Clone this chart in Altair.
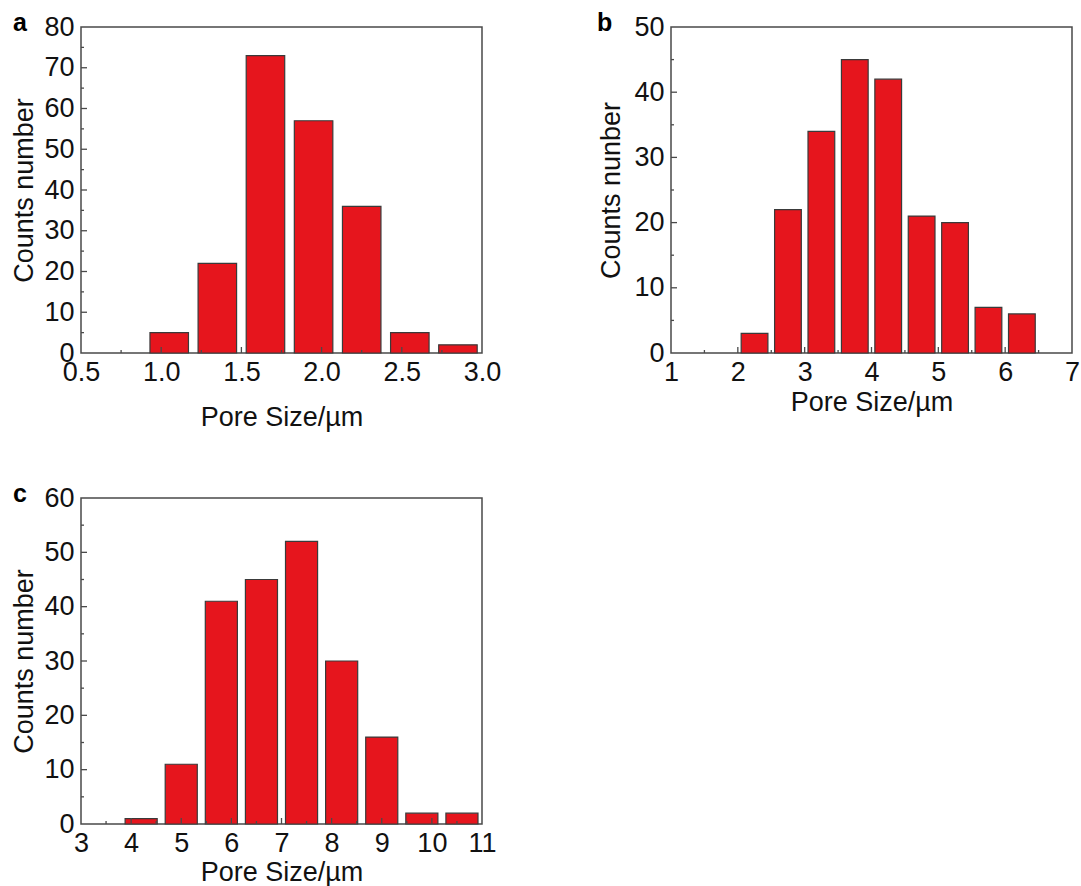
import altair as alt
import pandas as pd

FONT = "Liberation Sans, Arial"
BAR_FILL = "#e6151d"
BAR_EDGE = "#3a3a3a"
FRAME = "#4a4a4a"
W, H = 401, 326

# Panel a: pore-size histogram, bin width 0.3 µm
a_centers = [1.05, 1.35, 1.65, 1.95, 2.25, 2.55, 2.85]
a_counts = [5, 22, 73, 57, 36, 5, 2]
a_bin = 0.3
a_xdomain = [0.5, 3.0]
a_xmajor = [0.5, 1.0, 1.5, 2.0, 2.5, 3.0]
a_xminor = [0.75, 1.25, 1.75, 2.25, 2.75]
a_ydomain = [0, 80]
a_ymajor = [0, 10, 20, 30, 40, 50, 60, 70, 80]
a_yminor = [5, 15, 25, 35, 45, 55, 65, 75]

# Panel b: bin width 0.5 µm
b_centers = [2.25, 2.75, 3.25, 3.75, 4.25, 4.75, 5.25, 5.75, 6.25]
b_counts = [3, 22, 34, 45, 42, 21, 20, 7, 6]
b_bin = 0.5
b_xdomain = [1, 7]
b_xmajor = [1, 2, 3, 4, 5, 6, 7]
b_xminor = [1.5, 2.5, 3.5, 4.5, 5.5, 6.5]
b_ydomain = [0, 50]
b_ymajor = [0, 10, 20, 30, 40, 50]
b_yminor = [5, 15, 25, 35, 45]

# Panel c: bin width 0.8 µm
c_centers = [4.2, 5.0, 5.8, 6.6, 7.4, 8.2, 9.0, 9.8, 10.6]
c_counts = [1, 11, 41, 45, 52, 30, 16, 2, 2]
c_bin = 0.8
c_xdomain = [3, 11]
c_xmajor = [3, 4, 5, 6, 7, 8, 9, 10, 11]
c_xminor = [3.5, 4.5, 5.5, 6.5, 7.5, 8.5, 9.5, 10.5]
c_ydomain = [0, 60]
c_ymajor = [0, 10, 20, 30, 40, 50, 60]
c_yminor = [5, 15, 25, 35, 45, 55]

BAR_FRACTION = 0.8
LABEL_SIZE = 27
TITLE_SIZE = 27


def panel(letter, centers, counts, binw, xdom, xmaj, xmin, ydom, ymaj, ymin,
          xfmt, ytitle, xtitle_pad, ytitle_pad, letter_dx):
    half = binw * BAR_FRACTION / 2
    bars_df = pd.DataFrame({
        "lo": [c - half for c in centers],
        "hi": [c + half for c in centers],
        "count": counts,
    })
    xs = alt.Scale(domain=xdom, nice=False, zero=False)
    ys = alt.Scale(domain=ydom, nice=False, zero=False)

    x_axis = alt.Axis(
        values=xmaj, format=xfmt, title="Pore Size/µm", ticks=False, domain=False,
        grid=False, labelFont=FONT, labelFontSize=LABEL_SIZE, labelColor="#111",
        labelPadding=6, labelFlush=False, labelOverlap=False,
        titleFont=FONT, titleFontSize=TITLE_SIZE,
        titleFontWeight="normal", titleColor="#111", titlePadding=xtitle_pad,
    )
    y_axis = alt.Axis(
        values=ymaj, title=ytitle, ticks=False, domain=False, grid=False,
        labelFont=FONT, labelFontSize=LABEL_SIZE, labelColor="#111", labelPadding=7,
        labelFlush=False, labelOverlap=False,
        titleFont=FONT, titleFontSize=TITLE_SIZE,
        titleFontWeight="normal", titleColor="#111", titlePadding=ytitle_pad,
    )

    bars = alt.Chart(bars_df).mark_bar(
        fill=BAR_FILL, stroke=BAR_EDGE, strokeWidth=1.2
    ).encode(
        x=alt.X("lo:Q", scale=xs, axis=x_axis),
        x2="hi:Q",
        y=alt.Y("count:Q", scale=ys, axis=y_axis),
        y2=alt.datum(0),
    )

    def xticks(vals, length):
        return alt.Chart(pd.DataFrame({"v": vals})).mark_rule(
            color=FRAME, strokeWidth=1.3
        ).encode(
            x=alt.X("v:Q", scale=xs, axis=x_axis),
            y=alt.value(H),
            y2=alt.value(H - length),
        )

    def yticks(vals, length):
        return alt.Chart(pd.DataFrame({"v": vals})).mark_rule(
            color=FRAME, strokeWidth=1.3
        ).encode(
            y=alt.Y("v:Q", scale=ys, axis=y_axis),
            x=alt.value(0),
            x2=alt.value(length),
        )

    tag = alt.Chart(pd.DataFrame({"t": [letter]})).mark_text(
        font=FONT, fontSize=25, fontWeight="bold", color="#000",
        align="left", baseline="alphabetic",
    ).encode(text="t:N", x=alt.value(letter_dx), y=alt.value(4))

    return alt.layer(
        bars,
        xticks(xmaj[1:-1], 6), xticks(xmin, 3),
        yticks(ymaj[1:-1], 6), yticks(ymin, 3),
        tag,
    ).properties(width=W, height=H)


pa = panel("a", a_centers, a_counts, a_bin, a_xdomain, a_xmajor, a_xminor,
           a_ydomain, a_ymajor, a_yminor, ".1f", "Counts number", 19, 5, -68)
pb = panel("b", b_centers, b_counts, b_bin, b_xdomain, b_xmajor, b_xminor,
           b_ydomain, b_ymajor, b_yminor, "d", "Counts nunber", 4, 8, -74)
pc = panel("c", c_centers, c_counts, c_bin, c_xdomain, c_xmajor, c_xminor,
           c_ydomain, c_ymajor, c_yminor, "d", "Counts number", 3, 5, -68)

chart = alt.concat(
    pa, pb, pc, columns=2, bounds="flush",
    spacing=alt.RowColnumber(row=145, column=189),
).properties(
    padding={"left": 10, "top": 10, "right": 0, "bottom": 0},
    background="white",
).configure_view(
    stroke=FRAME, strokeWidth=1.5
)

chart.save("out.html", embed_options={"renderer": "svg", "actions": False})
